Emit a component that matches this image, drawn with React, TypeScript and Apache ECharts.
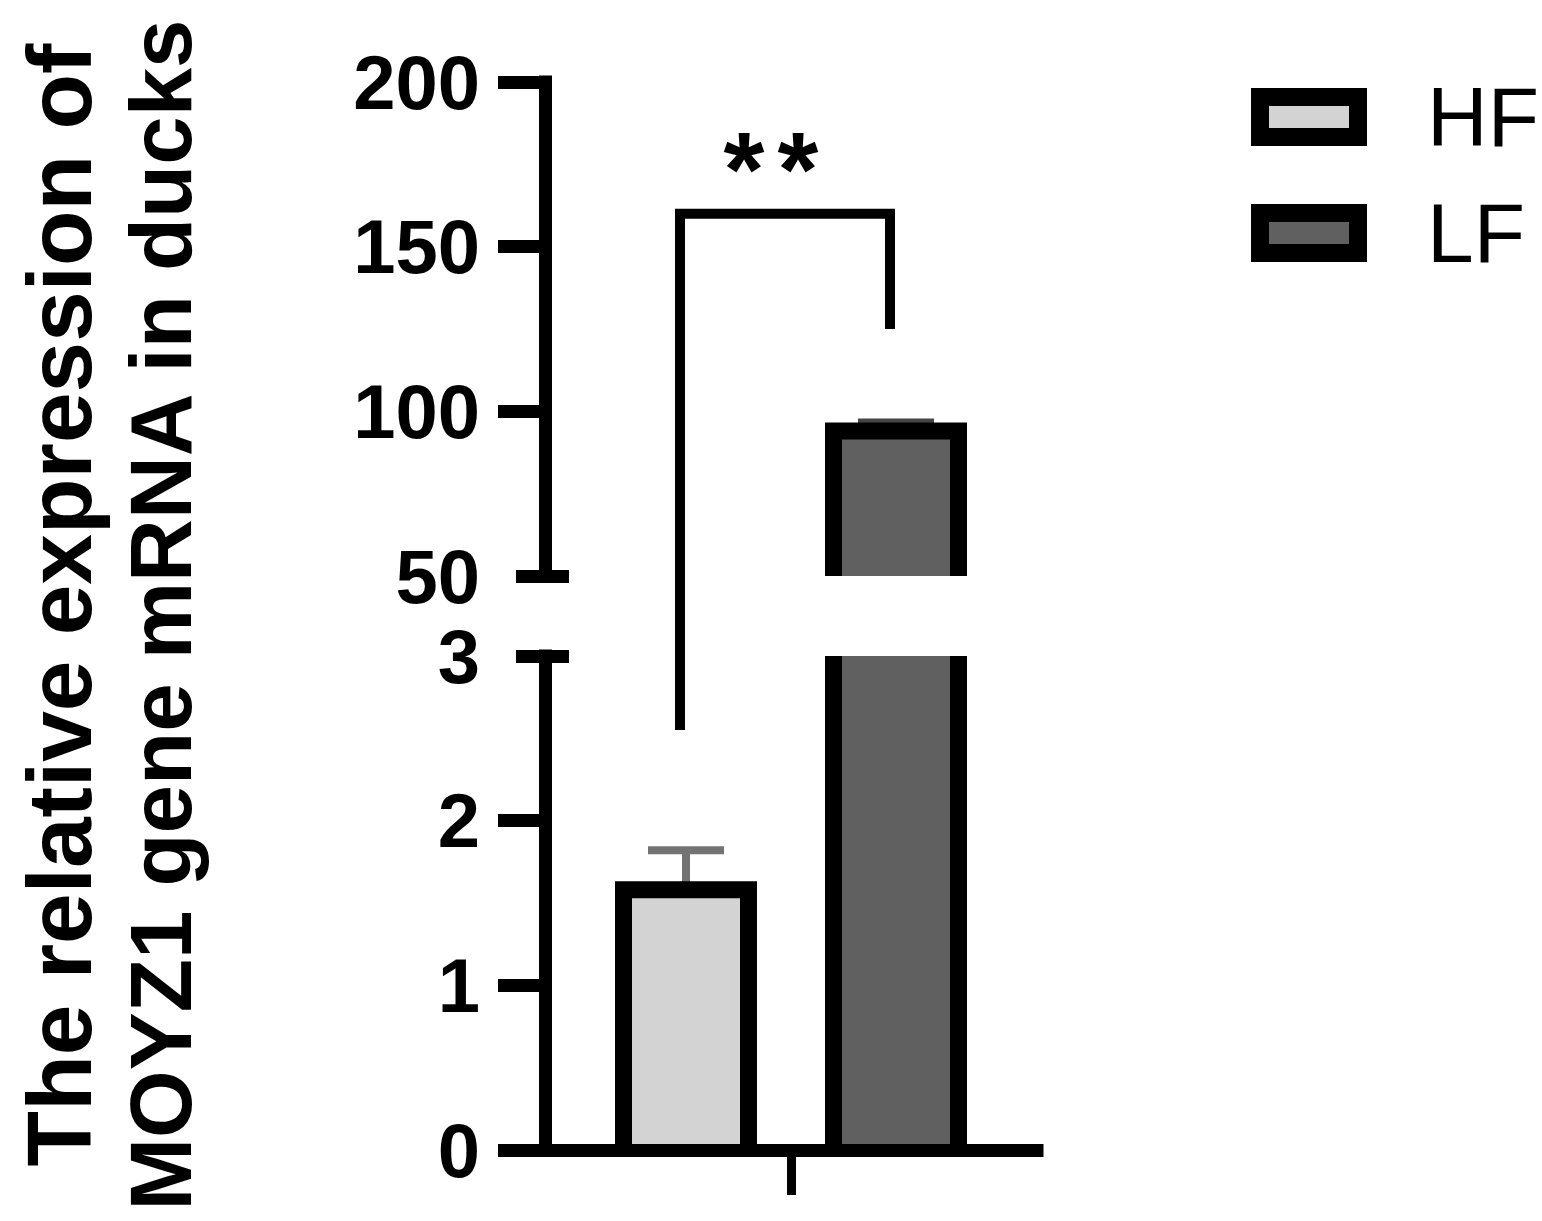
import React, { useEffect, useRef } from 'react';
import * as echarts from 'echarts';

// ---- data ----
const groups = [''];
const seriesNames = ['HF', 'LF'];
const means = [1.58, 94.0];
const errors = [0.24, 2.6];
const upperTicks = [50, 100, 150, 200];
const lowerTicks = [0, 1, 2, 3];
const bracketEnds = [2.55, 125]; // HF end (lower segment), LF end (upper segment)
const bracketTop = 160;
const starLevel = 177;
const starText = '*';
const titleLines = ['The relative expression of', 'MOYZ1 gene mRNA in ducks'];

// ---- styles ----
const fills = ['#d3d3d3', '#606060'];
const errColors = ['#737373', '#454545'];
const FONT = 'Arial, "Liberation Sans", sans-serif';
const GRID_LEFT = 545;
const GRID_W = 492;
const UP_TOP = 82;
const UP_H = 494;
const LO_TOP = 656;
const LO_H = 494;
const BAR_W = 125;
const BAR_GAP = 85;
const BORDER = 17;
const CAP_W = 76;
const ERR_W = 8;
const AXIS_W = 13;
const TICK_LEN = 47;

const slotOffset = (i: number) => (i === 0 ? -1 : 1) * (BAR_W + BAR_GAP) / 2;

export default function App() {
  const ref = useRef<HTMLDivElement>(null);
  useEffect(() => {
    document.body.style.margin = '0';
    document.body.style.overflow = 'hidden';
    const chart = echarts.init(ref.current!, null, { renderer: 'svg' });

    const makeRender = (i: number) => (params: any, api: any) => {
      const cs = params.coordSys;
      const gTop = cs.y;
      const gBot = cs.y + cs.height;
      const cat = api.value(0);
      const v = api.value(1);
      const e = api.value(2);
      const c = api.coord([cat, 0]);
      const cx = c[0] + slotOffset(i);
      const baseY = c[1];
      const topY = api.coord([cat, v])[1];
      const yTop = Math.max(topY, gTop);
      const yBot = Math.min(baseY, gBot);
      if (yTop >= yBot) return null;
      const left = cx - BAR_W / 2;
      const right = cx + BAR_W / 2;
      const topInside = topY >= gTop - 0.5;
      const children: any[] = [];
      if (topInside) {
        const eY = api.coord([cat, v + e])[1];
        children.push({
          type: 'line',
          shape: { x1: cx, y1: topY, x2: cx, y2: eY },
          style: { stroke: errColors[i], lineWidth: ERR_W },
        });
        children.push({
          type: 'line',
          shape: { x1: cx - CAP_W / 2, y1: eY, x2: cx + CAP_W / 2, y2: eY },
          style: { stroke: errColors[i], lineWidth: ERR_W },
        });
      }
      children.push({
        type: 'rect',
        shape: { x: left, y: yTop, width: BAR_W, height: yBot - yTop },
        style: { fill: fills[i] },
      });
      if (topInside) {
        children.push({
          type: 'polyline',
          shape: { points: [[left, yBot], [left, yTop], [right, yTop], [right, yBot]] },
          style: { fill: 'none', stroke: '#000', lineWidth: BORDER, lineJoin: 'miter' },
        });
      } else {
        children.push({
          type: 'line',
          shape: { x1: left, y1: yTop, x2: left, y2: yBot },
          style: { stroke: '#000', lineWidth: BORDER },
        });
        children.push({
          type: 'line',
          shape: { x1: right, y1: yTop, x2: right, y2: yBot },
          style: { stroke: '#000', lineWidth: BORDER },
        });
      }
      return { type: 'group', children };
    };

    const series: any[] = [];
    [0, 1].forEach((g) => {
      seriesNames.forEach((name, i) => {
        series.push({
          type: 'custom',
          name,
          xAxisIndex: g,
          yAxisIndex: g,
          data: [[0, means[i], errors[i]]],
          renderItem: makeRender(i),
          itemStyle: { color: fills[i], borderColor: '#000', borderWidth: BORDER },
          clip: false,
          z: 2,
          silent: true,
        });
      });
    });

    const yLabel = {
      show: true,
      fontSize: 76,
      fontWeight: 'bold',
      fontFamily: FONT,
      color: '#000',
      margin: 65,
    };
    const axisLineStyle = { color: '#000', width: AXIS_W, cap: 'square' };
    const tickStyle = { color: '#000', width: AXIS_W };
    const upMin = upperTicks[0];
    const upMax = upperTicks[upperTicks.length - 1];
    const loMin = lowerTicks[0];
    const loMax = lowerTicks[lowerTicks.length - 1];
    const upInt = upperTicks[1] - upperTicks[0];
    const loInt = lowerTicks[1] - lowerTicks[0];

    chart.setOption({
      animation: false,
      backgroundColor: '#fff',
      grid: [
        { left: GRID_LEFT, top: UP_TOP, width: GRID_W, height: UP_H, outerBoundsMode: 'none', containLabel: false },
        { left: GRID_LEFT, top: LO_TOP, width: GRID_W, height: LO_H, outerBoundsMode: 'none', containLabel: false },
      ],
      xAxis: [
        { gridIndex: 0, type: 'category', data: groups, show: false },
        {
          gridIndex: 1,
          type: 'category',
          data: groups,
          z: 5,
          axisLine: { show: true, lineStyle: axisLineStyle },
          axisTick: { show: true, alignWithLabel: true, length: 45, lineStyle: { color: '#000', width: 9 } },
          axisLabel: { show: false },
          splitLine: { show: false },
        },
      ],
      yAxis: [
        {
          gridIndex: 0, type: 'value', position: 'left', min: upMin, max: upMax, interval: upInt, z: 5,
          axisLine: { show: true, lineStyle: axisLineStyle },
          axisTick: { show: true, length: TICK_LEN, lineStyle: tickStyle, customValues: upperTicks.slice(1) },
          axisLabel: yLabel,
          splitLine: { show: false },
        },
        {
          gridIndex: 1, type: 'value', position: 'left', min: loMin, max: loMax, interval: loInt, z: 5,
          axisLine: { show: true, lineStyle: axisLineStyle },
          axisTick: { show: true, length: TICK_LEN, lineStyle: tickStyle, customValues: lowerTicks.slice(0, -1) },
          axisLabel: yLabel,
          splitLine: { show: false },
        },
        {
          gridIndex: 0, type: 'value', position: 'left', offset: -24, min: upMin, max: upMax, interval: upInt, z: 5,
          axisLine: { show: false },
          axisTick: { show: true, length: 53, lineStyle: tickStyle, customValues: [upMin] },
          axisLabel: { show: false },
          splitLine: { show: false },
        },
        {
          gridIndex: 1, type: 'value', position: 'left', offset: -24, min: loMin, max: loMax, interval: loInt, z: 5,
          axisLine: { show: false },
          axisTick: { show: true, length: 53, lineStyle: tickStyle, customValues: [loMax] },
          axisLabel: { show: false },
          splitLine: { show: false },
        },
      ],
      legend: {
        orient: 'vertical',
        left: 1251,
        top: 75,
        padding: 0,
        itemWidth: 98,
        itemHeight: 40,
        itemGap: 32,
        icon: 'rect',
        selectedMode: false,
        data: seriesNames.map((n, i) => ({
          name: n,
          icon: 'rect',
          itemStyle: { color: fills[i], borderColor: '#000', borderWidth: 18 },
        })),
        textStyle: {
          fontSize: 84,
          fontFamily: FONT,
          color: '#000',
          lineHeight: 40,
          padding: [0, 0, 0, 64],
        },
      },
      series,
    });

    // significance bracket and title, positioned through the axes
    const cL = chart.convertToPixel({ gridIndex: 1 }, [0, bracketEnds[0]]) as number[];
    const cT = chart.convertToPixel({ gridIndex: 0 }, [0, bracketTop]) as number[];
    const cR = chart.convertToPixel({ gridIndex: 0 }, [0, bracketEnds[1]]) as number[];
    const cS = chart.convertToPixel({ gridIndex: 0 }, [0, starLevel]) as number[];
    const shift = -6;
    const lx = cL[0] + slotOffset(0) + shift;
    const rx = cR[0] + slotOffset(1) + shift;
    const starMid = (lx + rx) / 2 - 14;

    const starStyle = {
      text: starText,
      fontSize: 105,
      fontWeight: 'bold',
      fontFamily: FONT,
      fill: '#000',
      align: 'center',
      verticalAlign: 'middle',
      textAlign: 'center',
      textVerticalAlign: 'middle',
    };
    const titleStyle = (t: string, size: number) => ({
      text: t,
      fontSize: size,
      fontWeight: 'bold',
      fontFamily: FONT,
      fill: '#000',
      align: 'center',
      verticalAlign: 'middle',
      textAlign: 'center',
      textVerticalAlign: 'middle',
    });

    chart.setOption({
      graphic: [
        {
          type: 'polyline',
          shape: { points: [[lx, cL[1]], [lx, cT[1]], [rx, cT[1]], [rx, cR[1]]] },
          style: { fill: 'none', stroke: '#000', lineWidth: 10, lineJoin: 'miter' },
          z: 10,
        },
        { type: 'text', x: starMid - 27, y: cS[1] + 12, style: starStyle, z: 10 },
        { type: 'text', x: starMid + 27, y: cS[1] + 12, style: starStyle, z: 10 },
        { type: 'text', x: 59, y: 605, rotation: Math.PI / 2, style: titleStyle(titleLines[0], 91), z: 10 },
        { type: 'text', x: 160, y: 615, rotation: Math.PI / 2, style: titleStyle(titleLines[1], 87), z: 10 },
      ],
    });

    return () => {
      chart.dispose();
    };
  }, []);

  return <div ref={ref} style={{ width: 1542, height: 1221 }} />;
}
